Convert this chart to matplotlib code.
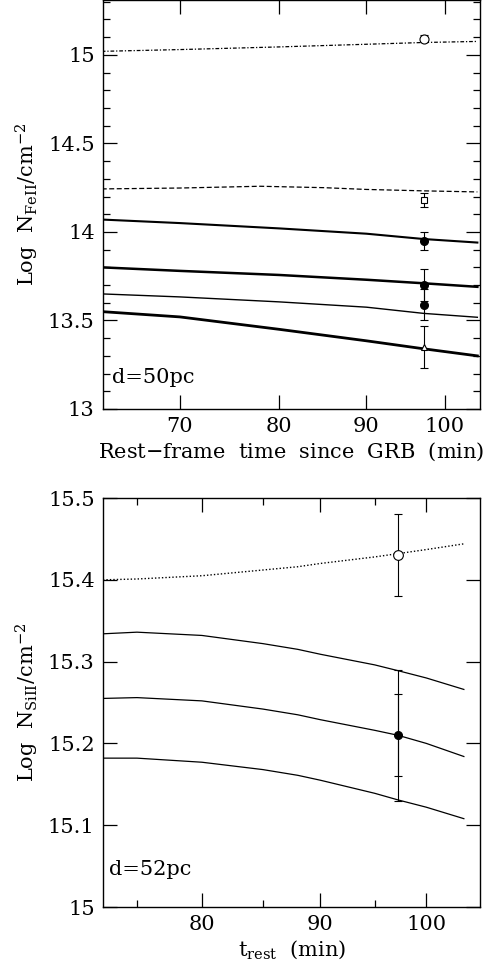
import numpy as np
import matplotlib
matplotlib.use('Agg')
import matplotlib.pyplot as plt
from matplotlib.ticker import FixedLocator, NullLocator, FixedFormatter, MultipleLocator

plt.rcParams['font.family'] = 'serif'
plt.rcParams['font.serif'] = ['DejaVu Serif']
plt.rcParams['mathtext.fontset'] = 'dejavuserif'

# top panel: Fe II models (d=50pc)
t_fe = [63, 70, 80, 90, 97.2, 104.5]
fe_dashdot = [15.020, 15.030, 15.045, 15.060, 15.070, 15.076]
t_fe_dash = [63, 70, 78, 85, 90, 97.2, 104.5]
fe_dash = [14.243, 14.248, 14.258, 14.250, 14.240, 14.232, 14.226]
fe_s1 = [14.070, 14.050, 14.020, 13.990, 13.960, 13.940]
fe_s2 = [13.800, 13.780, 13.757, 13.730, 13.710, 13.690]
fe_s3 = [13.650, 13.633, 13.605, 13.575, 13.540, 13.518]
fe_s4 = [13.550, 13.520, 13.450, 13.385, 13.340, 13.300]

# top panel: observations
t_obs = 97.2
fe_open_circ = (15.09, 0.02)
fe_open_sq = (14.18, 0.04)
fe_filled = [(13.95, 0.05), (13.70, 0.09), (13.59, 0.09)]
fe_tri = (13.35, 0.12)

# bottom panel: Si II models (d=52pc)
t_si = [72.5, 75, 80, 85, 88, 90, 95, 97.2, 100, 103.8]
si_dot = [15.400, 15.401, 15.405, 15.412, 15.416, 15.420, 15.428, 15.432, 15.437, 15.444]
si_s1 = [15.334, 15.336, 15.332, 15.322, 15.315, 15.309, 15.296, 15.289, 15.280, 15.266]
si_s2 = [15.255, 15.256, 15.252, 15.242, 15.235, 15.229, 15.216, 15.210, 15.200, 15.184]
si_s3 = [15.182, 15.182, 15.177, 15.168, 15.161, 15.155, 15.139, 15.131, 15.122, 15.108]

si_open = (15.43, 0.05)
si_filled = 15.21
si_err_big = 0.08
si_err_small = 0.05

fig = plt.figure(figsize=(4.9, 9.71), dpi=100)
ax1 = fig.add_axes([0.210, 0.5788, 0.770, 0.4212])
ax2 = fig.add_axes([0.210, 0.0659, 0.770, 0.4212])

# --- top panel ---
ax1.plot(t_fe, fe_dashdot, color='black', lw=0.9, dashes=[3, 1.5, 1, 1.5])
ax1.plot(t_fe_dash, fe_dash, color='black', lw=0.9, dashes=[4, 2])
ax1.plot(t_fe, fe_s1, color='black', lw=1.5)
ax1.plot(t_fe, fe_s2, color='black', lw=1.8)
ax1.plot(t_fe, fe_s3, color='black', lw=1.0)
ax1.plot(t_fe, fe_s4, color='black', lw=2.0)

ebkw = dict(ecolor='black', elinewidth=0.8, capsize=3, capthick=0.8, ls='none')
ax1.errorbar(t_obs, fe_open_circ[0], yerr=fe_open_circ[1], marker='o', ms=6.5,
             mfc='white', mec='black', mew=0.8, **ebkw)
ax1.errorbar(t_obs, fe_open_sq[0], yerr=fe_open_sq[1], marker='s', ms=4.5,
             mfc='white', mec='black', mew=0.8, **ebkw)
for v, e in fe_filled:
    ax1.errorbar(t_obs, v, yerr=e, marker='o', ms=5.5, mfc='black', mec='black', **ebkw)
ax1.errorbar(t_obs, fe_tri[0], yerr=fe_tri[1], marker='^', ms=5,
             mfc='white', mec='black', mew=0.8, **ebkw)

ax1.set_xscale('log')
ax1.set_xlim(63.1, 104.9)
ax1.set_ylim(13, 15.31)
ax1.xaxis.set_major_locator(FixedLocator([70, 80, 90, 100]))
ax1.xaxis.set_major_formatter(FixedFormatter(['70', '80', '90', '100']))
ax1.xaxis.set_minor_locator(NullLocator())
ax1.yaxis.set_major_locator(FixedLocator([13, 13.5, 14, 14.5, 15]))
ax1.yaxis.set_major_formatter(FixedFormatter(['13', '13.5', '14', '14.5', '15']))
ax1.yaxis.set_minor_locator(MultipleLocator(0.1))
ax1.set_xlabel('Rest$-$frame  time  since  GRB  (min)', fontsize=15, labelpad=3)
ax1.set_ylabel(r'Log  N$_{\rm FeII}$/cm$^{-2}$', fontsize=15, labelpad=5)
ax1.text(0.024, 0.064, 'd=50pc', transform=ax1.transAxes, fontsize=15)

# --- bottom panel ---
ax2.plot(t_si, si_dot, color='black', lw=1.0, ls=(0, (1, 1.5)))
ax2.plot(t_si, si_s1, color='black', lw=0.9)
ax2.plot(t_si, si_s2, color='black', lw=0.9)
ax2.plot(t_si, si_s3, color='black', lw=0.9)

ax2.errorbar(t_obs, si_open[0], yerr=si_open[1], marker='o', ms=7,
             mfc='white', mec='black', mew=0.8, **ebkw)
ax2.errorbar(t_obs, si_filled, yerr=si_err_big, marker='o', ms=5.5,
             mfc='black', mec='black', **ebkw)
ax2.errorbar(t_obs, si_filled, yerr=si_err_small, marker='none', **ebkw)

ax2.set_xscale('log')
ax2.set_xlim(72.5, 105.5)
ax2.set_ylim(15, 15.5)
ax2.xaxis.set_major_locator(FixedLocator([80, 90, 100]))
ax2.xaxis.set_major_formatter(FixedFormatter(['80', '90', '100']))
ax2.xaxis.set_minor_locator(FixedLocator([75, 85, 95]))
ax2.xaxis.set_minor_formatter(FixedFormatter(['', '', '']))
ax2.yaxis.set_major_locator(FixedLocator([15, 15.1, 15.2, 15.3, 15.4, 15.5]))
ax2.yaxis.set_major_formatter(FixedFormatter(['15', '15.1', '15.2', '15.3', '15.4', '15.5']))
ax2.yaxis.set_minor_locator(NullLocator())
ax2.set_xlabel(r't$_{\rm rest}$  (min)', fontsize=15, labelpad=3)
ax2.set_ylabel(r'Log  N$_{\rm SiII}$/cm$^{-2}$', fontsize=15, labelpad=5)
ax2.text(0.015, 0.078, 'd=52pc', transform=ax2.transAxes, fontsize=15)

for ax in (ax1, ax2):
    ax.tick_params(which='both', direction='in', top=True, right=True,
                   labelsize=15, width=0.9)
    ax.tick_params(which='major', length=10, pad=6)
    ax.tick_params(which='minor', length=5)
    for s in ax.spines.values():
        s.set_linewidth(1.0)

fig.savefig('out.png', dpi=100)
